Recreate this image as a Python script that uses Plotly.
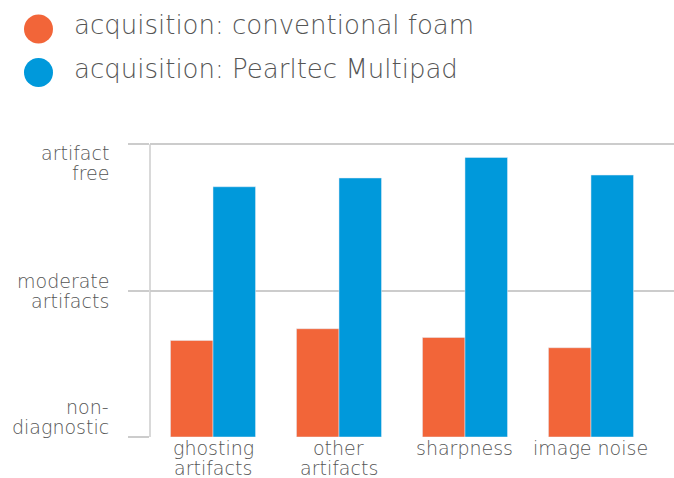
import plotly.graph_objects as go

categories = ["ghosting<br>artifacts", "other<br>artifacts", "sharpness", "image noise"]
foam_values = [0.66, 0.74, 0.68, 0.61]
multipad_values = [1.71, 1.77, 1.91, 1.79]
series_names = ["acquisition: conventional foam", "acquisition: Pearltec Multipad"]
y_tick_values = [2, 1, 0]
y_tick_labels = ["artifact<br>free", "moderate<br>artifacts", "non-<br>diagnostic"]

ORANGE = "#F26539"
BLUE = "#0099DB"
TEXT = "#555555"
GRID = "#cccccc"
FONT = "DejaVu Sans"
WEIGHT = 200
TICK_SIZE = 19

fig = go.Figure()
fig.add_trace(go.Bar(x=categories, y=foam_values, name=series_names[0], marker_color=ORANGE))
fig.add_trace(go.Bar(x=categories, y=multipad_values, name=series_names[1], marker_color=BLUE))

W, H = 674, 478
L, T, B = 150, 137, 41

fig.update_layout(
    width=W, height=H,
    margin=dict(l=L, r=0, t=T, b=B, pad=0),
    plot_bgcolor="white", paper_bgcolor="white",
    barmode="group", bargap=0.325, bargroupgap=0,
    showlegend=False,
    font=dict(family=FONT, color=TEXT, size=TICK_SIZE, weight=WEIGHT),
)
fig.update_xaxes(
    range=[-0.5, 3.659], showgrid=False, showline=False, zeroline=False,
    ticks="", showticklabels=False, fixedrange=True, automargin=False,
)
fig.update_yaxes(
    range=[0, 2.05], tickvals=y_tick_values, showticklabels=False,
    showgrid=True, gridcolor=GRID, gridwidth=1.5, zeroline=False,
    ticks="outside", ticklen=21, tickcolor=GRID, tickwidth=1.5,
    showline=False, automargin=False, fixedrange=True,
)

# vertical axis line from 0 to 2
fig.add_shape(type="line", xref="paper", yref="y", x0=0, x1=0, y0=0, y1=2,
              line=dict(color=GRID, width=1.5), layer="below")

LINE_STEP = 20
lab_font = dict(family=FONT, size=TICK_SIZE, color=TEXT, weight=WEIGHT)

# y tick labels, one annotation per line for tight line spacing
first_line_shift = {2: -8.7, 1: 10.0, 0: 30.3}
for v, t in zip(y_tick_values, y_tick_labels):
    for i, line in enumerate(t.split("<br>")):
        fig.add_annotation(x=0, xref="paper", y=v, yref="y", text=line, showarrow=False,
                           xanchor="right", yanchor="middle", xshift=-40, borderpad=0,
                           yshift=first_line_shift[v] - i * LINE_STEP, font=lab_font)

# x category labels
for c in categories:
    for i, line in enumerate(c.split("<br>")):
        fig.add_annotation(x=c, xref="x", y=0, yref="paper", text=line, showarrow=False,
                           xanchor="center", yanchor="middle", borderpad=0,
                           yshift=-11.2 - i * 19.5, font=lab_font)

# custom legend
legend_colors = [ORANGE, BLUE]
circle_offsets = [108, 64.5]
text_offsets = [112, 68]
for name, c, co, to in zip(series_names, legend_colors, circle_offsets, text_offsets):
    fig.add_shape(type="circle", xref="paper", yref="paper",
                  xsizemode="pixel", ysizemode="pixel", xanchor=0, yanchor=1,
                  x0=-126, x1=-97, y0=co - 14.5, y1=co + 14.5,
                  fillcolor=c, line=dict(width=0))
    fig.add_annotation(x=0, xref="paper", y=1, yref="paper", text=name, showarrow=False,
                       xanchor="left", yanchor="middle", xshift=-77, yshift=to, borderpad=0,
                       font=dict(family=FONT, size=26, color=TEXT, weight=WEIGHT))

fig.write_html("out.html", config={"displayModeBar": False},
               post_script="document.body.style.margin='0';document.body.style.padding='0';")
